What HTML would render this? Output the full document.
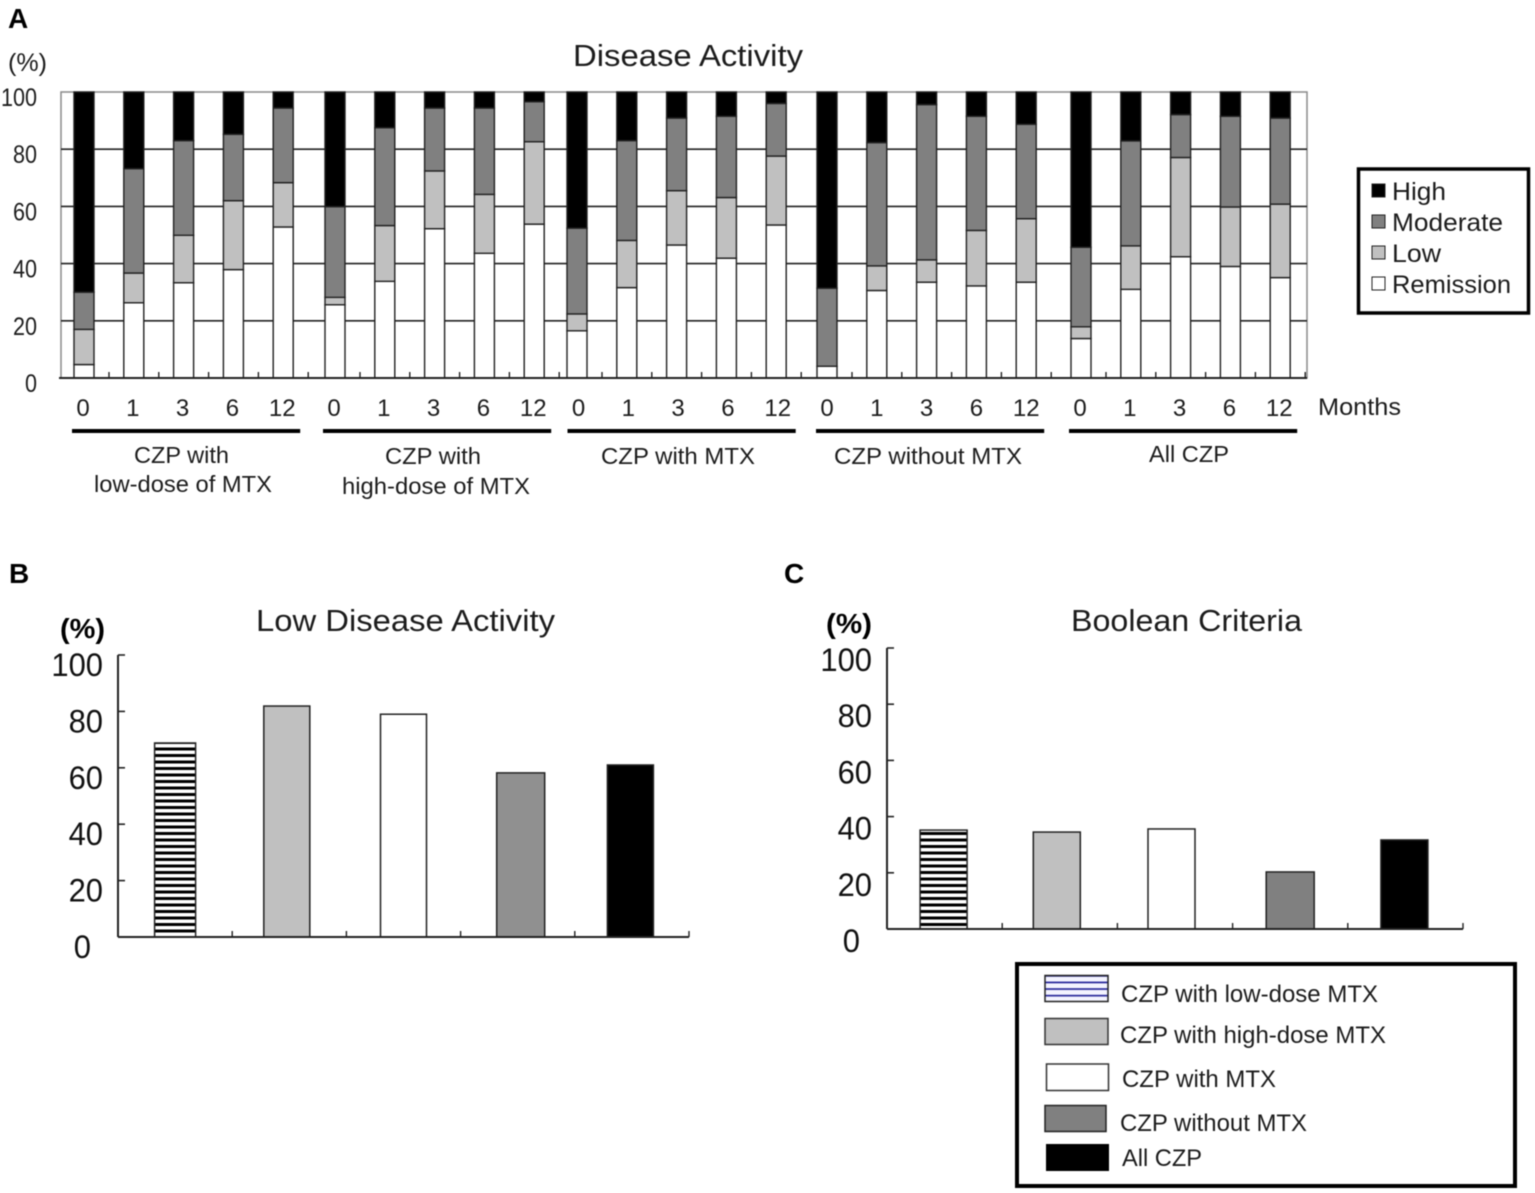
<!DOCTYPE html>
<html lang="en">
<head>
<meta charset="utf-8">
<title>Disease Activity, Low Disease Activity and Boolean Criteria</title>
<style>
html,body{margin:0;padding:0;background:#fff;}
body{width:1535px;height:1193px;overflow:hidden;}
svg{display:block;filter:blur(0.45px);}
text{font-family:"Liberation Sans",sans-serif;fill:#1c1c1c;}
.bold{font-weight:bold;fill:#000;}
</style>
</head>
<body>
<svg id="fig" xmlns="http://www.w3.org/2000/svg" width="1535" height="1193" viewBox="0 0 1535 1193">
  <defs>
    <pattern id="blackStripes" patternUnits="userSpaceOnUse" width="8" height="6.5">
      <rect width="8" height="6.5" fill="#fff"/>
      <rect width="8" height="3" fill="#000"/>
    </pattern>
    <pattern id="blueStripes" patternUnits="userSpaceOnUse" width="8" height="6.6" y="975">
      <rect width="8" height="6.6" fill="#f4f4ff"/>
      <rect width="8" height="1.7" fill="#26269a"/>
    </pattern>
  </defs>
  <rect width="1535" height="1193" fill="#fff"/>

  <!-- Panel letters -->
  <text class="bold" x="8" y="28" font-size="28">A</text>
  <text class="bold" x="9" y="583" font-size="28">B</text>
  <text class="bold" x="784" y="583" font-size="28">C</text>

  <!-- Panel A static text -->
  <text x="573" y="66" font-size="31" textLength="230" lengthAdjust="spacingAndGlyphs">Disease Activity</text>
  <text x="8" y="71" font-size="25" textLength="39" lengthAdjust="spacingAndGlyphs">(%)</text>
  <text x="1318" y="415" font-size="24" textLength="83" lengthAdjust="spacingAndGlyphs">Months</text>

  <g id="plotA"></g>

  <text x="134" y="463" font-size="23" textLength="95" lengthAdjust="spacingAndGlyphs">CZP with</text>
  <text x="94" y="492" font-size="23" textLength="178" lengthAdjust="spacingAndGlyphs">low-dose of MTX</text>
  <text x="385" y="464" font-size="23" textLength="96" lengthAdjust="spacingAndGlyphs">CZP with</text>
  <text x="342" y="494" font-size="23" textLength="188" lengthAdjust="spacingAndGlyphs">high-dose of MTX</text>
  <text x="601" y="464" font-size="23" textLength="154" lengthAdjust="spacingAndGlyphs">CZP with MTX</text>
  <text x="834" y="464" font-size="23" textLength="188" lengthAdjust="spacingAndGlyphs">CZP without MTX</text>
  <text x="1149" y="462" font-size="23" textLength="80" lengthAdjust="spacingAndGlyphs">All CZP</text>

  <!-- Panel A legend -->
  <g>
    <rect x="1358.5" y="169" width="170" height="144" fill="#fff" stroke="#000" stroke-width="3.5"/>
    <rect x="1372" y="184" width="13" height="13" fill="#000" stroke="#222"/>
    <text x="1392" y="200" font-size="25" textLength="54" lengthAdjust="spacingAndGlyphs">High</text>
    <rect x="1372" y="215" width="13" height="13" fill="#808080" stroke="#222"/>
    <text x="1392" y="231" font-size="25" textLength="111" lengthAdjust="spacingAndGlyphs">Moderate</text>
    <rect x="1372" y="246" width="13" height="13" fill="#c0c0c0" stroke="#222"/>
    <text x="1392" y="262" font-size="25" textLength="49" lengthAdjust="spacingAndGlyphs">Low</text>
    <rect x="1372" y="277" width="13" height="13" fill="#fff" stroke="#222"/>
    <text x="1392" y="293" font-size="25" textLength="119" lengthAdjust="spacingAndGlyphs">Remission</text>
  </g>

  <!-- Panel B static text -->
  <text x="256" y="631" font-size="31" textLength="299" lengthAdjust="spacingAndGlyphs">Low Disease Activity</text>
  <text class="bold" x="60" y="638" font-size="28" textLength="45" lengthAdjust="spacingAndGlyphs">(%)</text>
  <g id="plotB"></g>

  <!-- Panel C static text -->
  <text x="1071" y="631" font-size="31" textLength="231" lengthAdjust="spacingAndGlyphs">Boolean Criteria</text>
  <text class="bold" x="826" y="633" font-size="28" textLength="46" lengthAdjust="spacingAndGlyphs">(%)</text>
  <g id="plotC"></g>

  <!-- Shared legend -->
  <g>
    <rect x="1017" y="964" width="498" height="222" fill="#fff" stroke="#000" stroke-width="4"/>
    <rect x="1045" y="975.5" width="63" height="26" fill="url(#blueStripes)" stroke="#222" stroke-width="1.5"/>
    <text x="1121" y="1002" font-size="24" textLength="257" lengthAdjust="spacingAndGlyphs">CZP with low-dose MTX</text>
    <rect x="1045" y="1018.5" width="63" height="26" fill="#c0c0c0" stroke="#333" stroke-width="1.5"/>
    <text x="1120" y="1043" font-size="24" textLength="266" lengthAdjust="spacingAndGlyphs">CZP with high-dose MTX</text>
    <rect x="1046.5" y="1064" width="62" height="26.5" fill="#fff" stroke="#333" stroke-width="1.5"/>
    <text x="1122" y="1087" font-size="24" textLength="154" lengthAdjust="spacingAndGlyphs">CZP with MTX</text>
    <rect x="1045" y="1105.5" width="61" height="26" fill="#808080" stroke="#222" stroke-width="1.5"/>
    <text x="1120" y="1131" font-size="24" textLength="187" lengthAdjust="spacingAndGlyphs">CZP without MTX</text>
    <rect x="1046" y="1144" width="63" height="27" fill="#000"/>
    <text x="1122" y="1166" font-size="24" textLength="80" lengthAdjust="spacingAndGlyphs">All CZP</text>
  </g>
</svg>

<script>
// ---------- Panel A data ----------
const months = ["0","1","3","6","12"];
const groupsA = ["low-dose","high-dose","with-mtx","without-mtx","all-czp"];
const ticksA = [0,20,40,60,80,100];
const remission = [4.7,26.3,33.3,37.9,52.8, 25.6,33.8,52.2,43.6,53.8, 16.5,31.6,46.5,41.9,53.5, 4.1,30.6,33.5,32.2,33.5, 13.8,31.0,42.4,39.0,35.1];
const low       = [12.3,10.4,16.6,24.1,15.5, 2.6,19.5,20.2,20.6,28.8, 5.9,16.5,19.0,21.2,24.1, 0,8.6,7.8,19.4,22.2, 4.1,15.2,34.7,20.8,25.7];
const moderate  = [13.0,36.5,33.1,23.2,26.1, 31.7,34.2,22.0,30.2,14.0, 30.0,34.9,25.4,28.4,18.4, 27.3,43.1,54.3,39.9,33.0, 27.8,36.7,15.0,31.7,30.1];
const high      = [70.0,26.8,17.0,14.8,5.6, 40.1,12.5,5.6,5.6,3.4, 47.6,17.0,9.1,8.5,4.0, 68.6,17.7,4.4,8.5,11.3, 54.3,17.1,7.9,8.5,9.1];

// ---------- Panels B / C data ----------
const treatments = ["low-dose","high-dose","with-mtx","without-mtx","all-czp"];
const ticksBC = [0,20,40,60,80,100];
const lowActivity = [68.8,81.9,79.0,58.2,61.0];
const booleanCriteria = [35.2,34.5,35.6,20.3,31.7];

const NS = "http://www.w3.org/2000/svg";
function mk(parent, tag, attrs, txt) {
  const el = document.createElementNS(NS, tag);
  for (const k in attrs) el.setAttribute(k, attrs[k]);
  if (txt !== undefined) el.textContent = txt;
  parent.appendChild(el);
  return el;
}

// ---------- Panel A axes ----------
const plotA = document.getElementById("plotA");
const A_LEFT = 61, A_RIGHT = 1307, A_TOP = 92, A_BOTTOM = 378;
function yA(v) { return A_BOTTOM - (A_BOTTOM - A_TOP) * v / 100; }
function xA(g, m) {
  const nudge = g === 1 ? 1 : g === 2 ? -7 : g === 3 ? -7 : g === 4 ? -3 : 0;
  return 84 + 250 * g + nudge + 49.8 * m;
}

// plot frame
const frameA = mk(plotA, "rect", {x:A_LEFT, y:A_TOP, width:A_RIGHT-A_LEFT, height:A_BOTTOM-A_TOP, fill:"#fff", stroke:"#8a8a8a", "stroke-width":1.5});



ticksA.forEach(function (t) {
  if (t > 0 && t < 100) {
    const grid = mk(plotA, "line", {x1:A_LEFT, x2:A_RIGHT, y1:yA(t), y2:yA(t), stroke:"#222", "stroke-width":1.6});
    
    
  }
  const str = String(t);
  const lab = mk(plotA, "text", {x:37, y:yA(t)+14, "font-size":25, "text-anchor":"end", textLength:str.length*12, lengthAdjust:"spacingAndGlyphs"}, str);
  
  
});

const seriesA = [
  {name:"remission", values:remission, fill:"#ffffff"},
  {name:"low", values:low, fill:"#c0c0c0"},
  {name:"moderate", values:moderate, fill:"#808080"},
  {name:"high", values:high, fill:"#000000"}
];

groupsA.forEach(function (gName, g) {
  const labelShift = g === 2 ? 2.5 : g === 3 ? 1 : 0;
  months.forEach(function (mo, m) {
    const idx = g * months.length + m;
    const cx = xA(g, m);
    const bw = 20;
    let cum = 0;
    seriesA.forEach(function (s) {
      const v = s.values[idx];
      const y1 = yA(Math.min(100, cum + v));
      const y0 = yA(cum);
      cum += v;
      if (v <= 0) return;
      const seg = mk(plotA, "rect", {x:cx-bw/2, y:y1, width:bw, height:y0-y1, fill:s.fill, stroke:"#222", "stroke-width":1.4});
      
      
    });
    const lab = mk(plotA, "text", {x:cx-1+labelShift, y:416, "font-size":24, "text-anchor":"middle"}, mo);
    
    
    const tick = mk(plotA, "line", {x1:cx+25, x2:cx+25, y1:A_BOTTOM-6, y2:A_BOTTOM, stroke:"#222", "stroke-width":1.4});
    
    
  });
  const bracket = mk(plotA, "line", {x1:xA(g,0)-12+labelShift, x2:xA(g,4)+17+labelShift, y1:431, y2:431, stroke:"#000", "stroke-width":4});
  
  
});

const baseA = mk(plotA, "line", {x1:A_LEFT-2, x2:A_RIGHT, y1:A_BOTTOM, y2:A_BOTTOM, stroke:"#222", "stroke-width":2});



// ---------- Panels B / C ----------
function drawSimple(target, values, o) {
  function y(v) { return o.bottom - (o.bottom - o.top) * v / 100; }
  function band(i) { return o.left + o.step * (i + 0.5) + o.shift(i); }

  values.forEach(function (v, i) {
    const fills = ["url(#blackStripes)", "#c0c0c0", "#ffffff", o.grayFill, "#000000"];
    const w = o.barW(i);
    const bar = mk(target, "rect", {x:band(i)-w/2, y:y(v), width:w, height:o.bottom-y(v), fill:fills[i], stroke:"#222", "stroke-width":1.5});
    
    
  });

  const yAxis = mk(target, "line", {x1:o.left, x2:o.left, y1:o.top, y2:o.bottom, stroke:"#222", "stroke-width":2});
  
  
  const xAxis = mk(target, "line", {x1:o.left, x2:o.left + o.step * values.length, y1:o.bottom, y2:o.bottom, stroke:"#222", "stroke-width":2});
  
  

  ticksBC.forEach(function (t) {
    if (t > 0) {
      const tk = mk(target, "line", {x1:o.left, x2:o.left+7, y1:y(t), y2:y(t), stroke:"#222", "stroke-width":1.6});
      
      
    }
    const str = String(t);
    const lab = mk(target, "text", {x:t === 0 ? o.labelX - 12 : o.labelX, y:y(t)+o.labelDy, "font-size":32, "text-anchor":"end", textLength:str.length*17.2, lengthAdjust:"spacingAndGlyphs", style:"fill:#111"}, str);
    
    
  });

  for (let i = 1; i < values.length; i++) {
    const xt = mk(target, "line", {x1:o.left+o.step*i, x2:o.left+o.step*i, y1:o.bottom-6, y2:o.bottom, stroke:"#222", "stroke-width":1.4});
    
    
  }
  const endTick = mk(target, "line", {x1:o.left+o.step*values.length, x2:o.left+o.step*values.length, y1:o.bottom-6, y2:o.bottom, stroke:"#222", "stroke-width":1.4});
  
  
}

drawSimple(document.getElementById("plotB"), lowActivity, {
  prefix:"low-disease-activity", left:118, top:655, bottom:937, step:114.2, labelX:103, labelDy:21, grayFill:"#909090",
  barW:function (i) { return i === 0 ? 41 : i === 3 ? 48 : 46; },
  shift:function (i) { return i === 1 ? -2.5 : i === 3 ? 3 : i === 4 ? -1.5 : 0; }
});
drawSimple(document.getElementById("plotC"), booleanCriteria, {
  prefix:"boolean-criteria", left:887, top:648, bottom:929, step:115.2, labelX:872, labelDy:23, grayFill:"#808080",
  barW:function (i) { return i === 3 ? 48 : 47; },
  shift:function (i) { return i === 0 ? -1 : i === 1 ? -3 : i === 2 ? -3.5 : i === 4 ? -1 : 0; }
});
</script>
</body>
</html>
